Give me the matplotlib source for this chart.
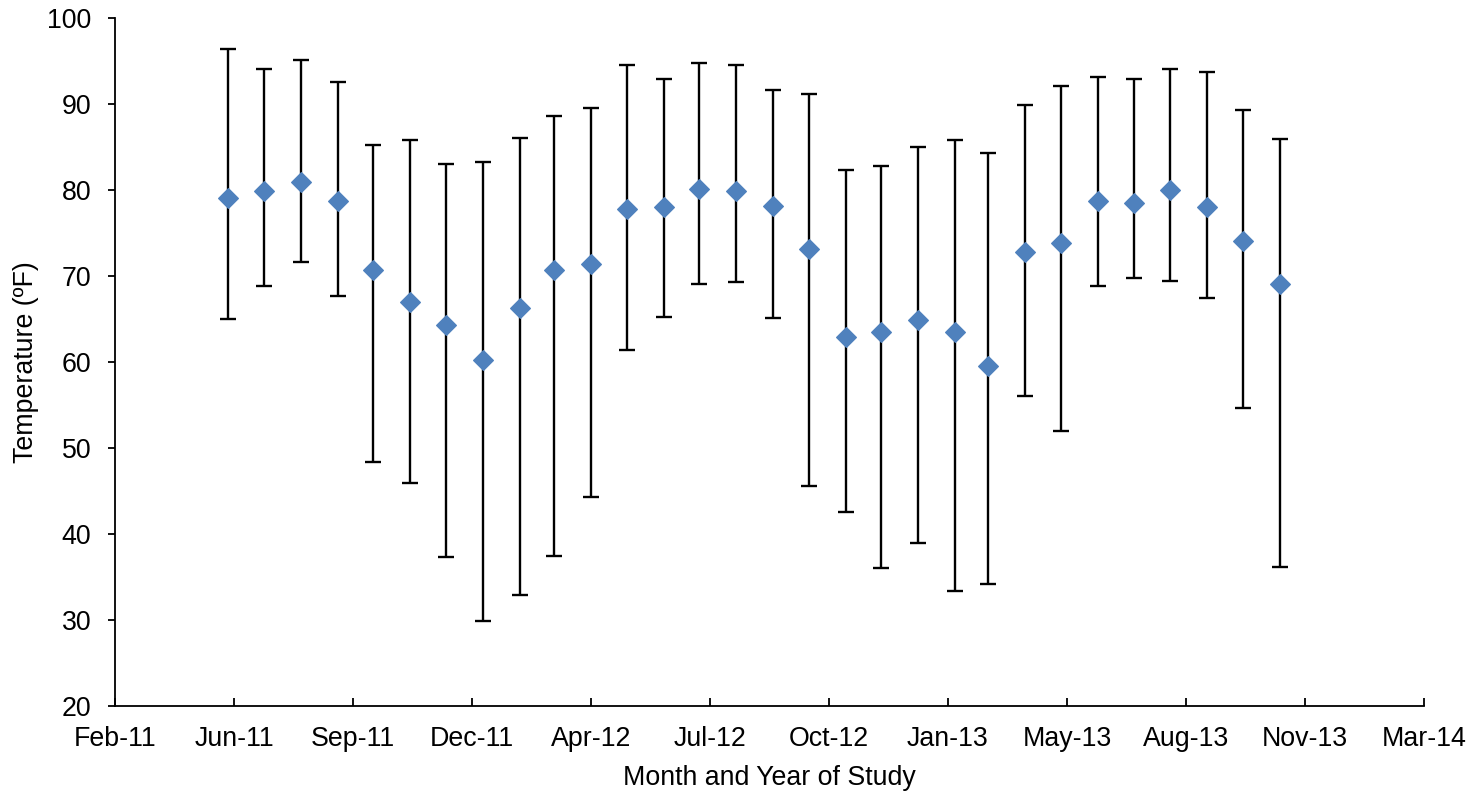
import matplotlib
matplotlib.use("Agg")
import matplotlib.pyplot as plt
import matplotlib.dates as mdates
import numpy as np
import datetime as dt

# ---- data ----
months = ["2011-06", "2011-07", "2011-08", "2011-09", "2011-10", "2011-11", "2011-12",
          "2012-01", "2012-02", "2012-03", "2012-04", "2012-05", "2012-06", "2012-07",
          "2012-08", "2012-09", "2012-10", "2012-11", "2012-12", "2013-01", "2013-02",
          "2013-03", "2013-04", "2013-05", "2013-06", "2013-07", "2013-08", "2013-09",
          "2013-10", "2013-11"]
mean_temp = [79.1, 79.9, 81.0, 78.8, 70.7, 67.0, 64.3, 60.2, 66.3, 70.7, 71.4, 77.8,
             78.1, 80.2, 79.9, 78.2, 73.2, 62.9, 63.5, 64.9, 63.5, 59.5, 72.8, 73.8,
             78.8, 78.5, 80.0, 78.0, 74.1, 69.1]
max_temp = [96.5, 94.1, 95.2, 92.6, 85.3, 85.9, 83.0, 83.3, 86.1, 88.7, 89.6, 94.6,
            93.0, 94.8, 94.6, 91.7, 91.2, 82.4, 82.8, 85.0, 85.9, 84.3, 89.9, 92.1,
            93.2, 93.0, 94.1, 93.8, 89.4, 86.0]
min_temp = [65.0, 68.8, 71.7, 67.7, 48.4, 45.9, 37.3, 29.8, 32.9, 37.4, 44.3, 61.4,
            65.2, 69.1, 69.3, 65.1, 45.6, 42.5, 36.0, 38.9, 33.3, 34.2, 56.0, 52.0,
            68.9, 69.8, 69.4, 67.4, 54.7, 36.1]
y_ticks = [20, 30, 40, 50, 60, 70, 80, 90, 100]
axis_start = "2011-02-26"
tick_step_days = 100
n_ticks = 12

# ---- build ----
dates = [dt.datetime.strptime(m + "-01", "%Y-%m-%d") for m in months]
x = mdates.date2num(dates)
mean_arr = np.array(mean_temp)
err_low = mean_arr - np.array(min_temp)
err_high = np.array(max_temp) - mean_arr

start = dt.datetime.strptime(axis_start, "%Y-%m-%d")
tick_dates = [start + dt.timedelta(days=tick_step_days * i) for i in range(n_ticks)]

plt.rcParams['font.family'] = ['Liberation Sans', 'DejaVu Sans']

fig = plt.figure(figsize=(14.73, 7.93), dpi=100)
ax = fig.add_axes([0.0781, 0.1103, 0.8886, 0.8664])

# error bars (black with caps)
ax.errorbar(x, mean_arr, yerr=[err_low, err_high], fmt='none',
            ecolor='black', elinewidth=1.7, capsize=6, capthick=1.7, zorder=2)
# mean markers
ax.plot(x, mean_arr, linestyle='none', marker='D', color='#4F81BD',
        markersize=10.5, markeredgewidth=0.8, markeredgecolor='#4F81BD', zorder=3)

ax.set_xlim(mdates.date2num(tick_dates[0]), mdates.date2num(tick_dates[-1]))
ax.set_ylim(20, 100)
ax.set_yticks(y_ticks)
ax.set_xticks(mdates.date2num(tick_dates))
ax.xaxis.set_major_formatter(mdates.DateFormatter('%b-%y'))

for side in ['top', 'right']:
    ax.spines[side].set_visible(False)
for side in ['left', 'bottom']:
    ax.spines[side].set_linewidth(1.3)
    ax.spines[side].set_color('black')

ax.tick_params(axis='x', direction='in', length=6, width=1.3, pad=15, labelsize=19.3)
ax.tick_params(axis='y', direction='out', length=5, width=1.3, pad=12, labelsize=19.3)

ax.set_xlabel('Month and Year of Study', fontsize=19.3)
ax.set_ylabel('Temperature (ºF)', fontsize=19.3)
ax.xaxis.set_label_coords(0.5, -0.086)
ax.yaxis.set_label_coords(-0.058, 0.5)

fig.savefig('out.png', dpi=100, facecolor='white')
